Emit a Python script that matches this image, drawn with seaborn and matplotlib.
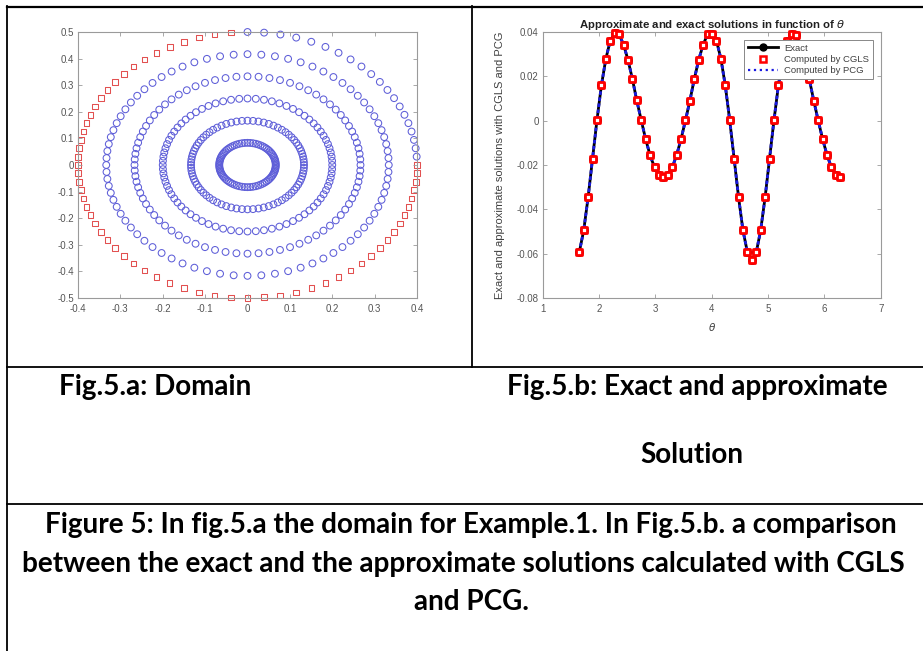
import numpy as np
import matplotlib
matplotlib.use("Agg")
import matplotlib.pyplot as plt
import seaborn as sns
from matplotlib.lines import Line2D

# ---------------- data ----------------
# Fig.5.a  domain: elliptical rings (semi-axes along x and y)
semi_x = 0.4
semi_y = 0.5
inner_ring_scales = [5 / 6, 4 / 6, 3 / 6, 2 / 6, 1 / 6]
points_per_ring = 80
outer_blue_count = 20          # first quarter of the outer boundary (blue circles)

# Fig.5.b  boundary angle theta and solution values
theta = [1.649, 1.728, 1.806, 1.885, 1.963, 2.042, 2.121, 2.199, 2.278, 2.356,
         2.435, 2.513, 2.592, 2.670, 2.749, 2.827, 2.906, 2.985, 3.063, 3.142,
         3.220, 3.299, 3.377, 3.456, 3.534, 3.613, 3.691, 3.770, 3.848, 3.927,
         4.006, 4.084, 4.163, 4.241, 4.320, 4.398, 4.477, 4.555, 4.634, 4.712,
         4.791, 4.869, 4.948, 5.027, 5.105, 5.184, 5.262, 5.341, 5.419, 5.498,
         5.576, 5.655, 5.733, 5.812, 5.890, 5.969, 6.048, 6.126, 6.205, 6.283]
exact = [-0.0594, -0.0495, -0.0346, -0.0171, 0.0002, 0.0159, 0.0279, 0.0361, 0.0394, 0.0389,
         0.0343, 0.0275, 0.0188, 0.0091, 0.0002, -0.0083, -0.0156, -0.0211, -0.0246, -0.0256,
         -0.0243, -0.0211, -0.0156, -0.0083, 0.0001, 0.0090, 0.0188, 0.0275, 0.0343, 0.0389,
         0.0392, 0.0361, 0.0280, 0.0159, 0.0001, -0.0171, -0.0346, -0.0495, -0.0594, -0.0627,
         -0.0594, -0.0495, -0.0346, -0.0171, 0.0001, 0.0159, 0.0279, 0.0360, 0.0391, 0.0388,
         0.0343, 0.0275, 0.0186, 0.0090, 0.0001, -0.0083, -0.0156, -0.0211, -0.0243, -0.0256]
cgls = list(exact)
pcg = list(exact)

x_ticks_a = [-0.4, -0.3, -0.2, -0.1, 0, 0.1, 0.2, 0.3, 0.4]
x_ticklabels_a = ["-0.4", "-0.3", "-0.2", "-0.1", "0", "0.1", "0.2", "0.3", "0.4"]
y_ticks_a = [-0.5, -0.4, -0.3, -0.2, -0.1, 0, 0.1, 0.2, 0.3, 0.4, 0.5]
y_ticklabels_a = ["-0.5", "-0.4", "-0.3", "-0.2", "-0.1", "0", "0.1", "0.2", "0.3", "0.4", "0.5"]
x_ticks_b = [1, 2, 3, 4, 5, 6, 7]
x_ticklabels_b = ["1", "2", "3", "4", "5", "6", "7"]
y_ticks_b = [-0.08, -0.06, -0.04, -0.02, 0, 0.02, 0.04]
y_ticklabels_b = ["-0.08", "-0.06", "-0.04", "-0.02", "0", "0.02", "0.04"]

caption_a = "Fig.5.a: Domain"
caption_b1 = "Fig.5.b: Exact and approximate"
caption_b2 = "Solution"
figure_caption = ["Figure 5: In fig.5.a the domain for Example.1. In Fig.5.b. a comparison",
                  "between the exact and the approximate solutions calculated with CGLS",
                  "and PCG."]


def ellipse_points(angles, scale):
    a = np.asarray(angles, dtype=float)
    r = scale * semi_x * semi_y / np.sqrt((semi_y * np.cos(a)) ** 2 + (semi_x * np.sin(a)) ** 2)
    return r * np.cos(a), r * np.sin(a)


# ---------------- figure ----------------
W, H = 923, 651
fig = plt.figure(figsize=(W / 100, H / 100), dpi=100)
fig.patch.set_facecolor("white")

axis_font = ["Liberation Sans", "DejaVu Sans"]
tick_col = "#555555"
spine_col = "#9a9a9a"


def px_axes(x0, y0, x1, y1):
    return fig.add_axes([x0 / W, 1 - y1 / H, (x1 - x0) / W, (y1 - y0) / H])


def style_axes(ax):
    for s in ax.spines.values():
        s.set_color(spine_col)
        s.set_linewidth(0.8)
    ax.tick_params(direction="in", top=True, right=True, length=3, width=0.6,
                   color=spine_col, labelcolor=tick_col, labelsize=7, pad=3)
    ax.tick_params(axis="x", pad=4)
    for lab in ax.get_xticklabels() + ax.get_yticklabels():
        lab.set_family(axis_font)
    ax.set_facecolor("white")


blue_c = "#5e5ed8"
red_c = "#e25050"

# ---- panel a ----
axa = px_axes(78, 32, 417, 298)
step = 2 * np.pi / points_per_ring
for sc in inner_ring_scales:
    ang = step * np.arange(1, points_per_ring + 1)
    xs, ys = ellipse_points(ang, sc)
    sns.scatterplot(x=xs, y=ys, ax=axa, marker="o", s=24, color=blue_c,
                    facecolor="none", edgecolor=blue_c, linewidth=0.75, legend=False)
ang_b = step * np.arange(1, outer_blue_count + 1)
xs, ys = ellipse_points(ang_b, 1.0)
sns.scatterplot(x=xs, y=ys, ax=axa, marker="o", s=24, color=blue_c, facecolor="none",
                edgecolor=blue_c, linewidth=0.75, legend=False, clip_on=False)
xs, ys = ellipse_points(theta, 1.0)
sns.scatterplot(x=xs, y=ys, ax=axa, marker="s", s=17, color=red_c, facecolor="none",
                edgecolor=red_c, linewidth=0.75, legend=False, clip_on=False)
axa.set_xlim(-0.4, 0.4)
axa.set_ylim(-0.5, 0.5)
axa.set_xticks(x_ticks_a)
axa.set_xticklabels(x_ticklabels_a)
axa.set_yticks(y_ticks_a)
axa.set_yticklabels(y_ticklabels_a)
axa.set_xlabel("")
axa.set_ylabel("")
style_axes(axa)

# ---- panel b ----
axb = px_axes(542.7, 32, 880.7, 298)
sns.lineplot(x=theta, y=exact, ax=axb, estimator=None, sort=False, color="black",
             linewidth=2.0, marker="o", markersize=5.5, markerfacecolor="black",
             markeredgecolor="black", legend=False, zorder=2, clip_on=False)
sns.lineplot(x=theta, y=pcg, ax=axb, estimator=None, sort=False, color="#1a1ae0",
             linewidth=2.0, dashes=False, legend=False, zorder=3)
axb.lines[-1].set_dashes((1.3, 0.9))
sns.scatterplot(x=theta, y=cgls, ax=axb, marker="s", s=17, color="red", facecolor="white",
                edgecolor="red", linewidth=2.0, legend=False, zorder=4, clip_on=False)
axb.set_xlim(1, 7)
axb.set_ylim(-0.08, 0.04)
axb.set_xticks(x_ticks_b)
axb.set_xticklabels(x_ticklabels_b)
axb.set_yticks(y_ticks_b)
axb.set_yticklabels(y_ticklabels_b)
style_axes(axb)
axb.set_title(r"Approximate and exact solutions in function of $\theta$", fontsize=8.2,
              fontweight="bold", color="#202020", family=axis_font, pad=3)
axb.set_ylabel("Exact and approximate solutions with CGLS and PCG", fontsize=8,
               color="#404040", family=axis_font)
axb.yaxis.set_label_coords(-0.112, 0.5)
axb.set_xlabel(r"$\theta$", fontsize=7.5, color="#404040")
axb.xaxis.set_label_coords(0.5, -0.085)

handles = [
    Line2D([], [], color="black", lw=2, marker="o", ms=5, mfc="black", mec="black"),
    Line2D([], [], ls="none", marker="s", ms=4, mfc="white", mec="red", mew=1.8),
    Line2D([], [], color="#1a1ae0", lw=1.6, ls=":"),
]
leg = axb.legend(handles, ["Exact", "Computed by CGLS", "Computed by PCG"],
                 loc="upper right", bbox_to_anchor=(0.977, 0.970),
                 frameon=True, fancybox=False, framealpha=1, edgecolor="#888888",
                 borderpad=0.4, labelspacing=0.25, handlelength=3.2, handletextpad=0.6,
                 borderaxespad=0, numpoints=1, prop={"family": axis_font, "size": 6.8})
leg.get_frame().set_linewidth(0.7)
for t in leg.get_texts():
    t.set_color("#404040")

# ---- table lines ----
def hline(y, x0, x1, lw=1.3):
    fig.add_artist(Line2D([x0 / W, x1 / W], [1 - y / H, 1 - y / H], color="black",
                          lw=lw, transform=fig.transFigure))


def vline(x, y0, y1, lw=1.3):
    fig.add_artist(Line2D([x / W, x / W], [1 - y0 / H, 1 - y1 / H], color="black",
                          lw=lw, transform=fig.transFigure))


hline(6.5, 6.5, 923, lw=1.6)
vline(7, 6, 651)
vline(472, 6, 367)
hline(367, 7, 923)
hline(504, 7, 923)

# ---- captions ----
cap_font = ["Lato", "DejaVu Sans"]
fig.canvas.draw()
renderer = fig.canvas.get_renderer()
probe = fig.text(0, 0, figure_caption[1], fontsize=20, fontweight="bold", family=cap_font)
bw = probe.get_window_extent(renderer).width
probe.remove()
cap_size = 20 * 883 / bw


def ftext(x, y, s, ha):
    fig.text(x / W, 1 - y / H, s, ha=ha, va="baseline", fontsize=cap_size,
             fontweight="bold", family=cap_font, color="black")


ftext(59, 395, caption_a, "left")
ftext(507, 395, caption_b1, "left")
ftext(692, 462.7, caption_b2, "center")
ftext(471, 533.3, figure_caption[0], "center")
ftext(463.5, 571.7, figure_caption[1], "center")
ftext(471.5, 610.5, figure_caption[2], "center")

fig.savefig("out.png", dpi=100, facecolor="white")
